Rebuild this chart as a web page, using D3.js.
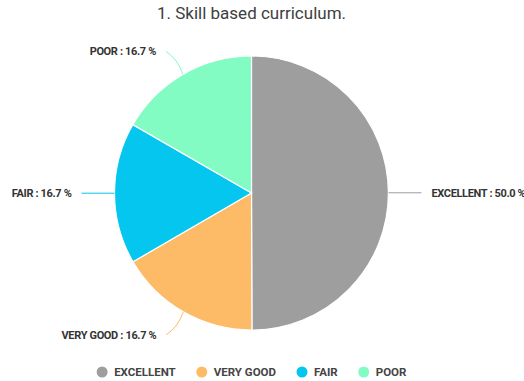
<!DOCTYPE html>
<html><head><meta charset="utf-8">
<script src="https://cdn.jsdelivr.net/npm/d3@7"></script>
<style>body{margin:0;background:#fff}svg{display:block;font-family:Roboto,"Noto Sans",sans-serif}</style>
</head><body><svg id="c" width="524" height="381"></svg>
<script>
const categories = ["EXCELLENT", "VERY GOOD", "FAIR", "POOR"];
const values = [50.0, 16.7, 16.7, 16.7];
const colors = ["#9e9e9e", "#fdbb67", "#05c6ef", "#82fcc2"];
const title = "1. Skill based curriculum.";

const svg = d3.select("#c");
const W = 524, cx = 251.5, cy = 193, R = 137;

svg.append("text").attr("x", cx).attr("y", 19).attr("text-anchor", "middle")
  .attr("font-size", 17).attr("fill", "#3e3e3e").text(title);

const data = categories.map((c, i) => ({cat: c, value: values[i], color: colors[i]}));
const pie = d3.pie().value(d => d.value).sort(null);
const arcs = pie(data);
const arc = d3.arc().innerRadius(0).outerRadius(R);

const g = svg.append("g").attr("transform", `translate(${cx},${cy})`);
g.selectAll("path.slice").data(arcs).join("path").attr("class", "slice")
  .attr("d", arc).attr("fill", d => d.data.color)
  .attr("stroke", "#fff").attr("stroke-width", 1.2);

// labels with leader lines
const labelFont = 11;
arcs.forEach(a => {
  const mid = (a.startAngle + a.endAngle) / 2;
  const sx = Math.sin(mid), sy = -Math.cos(mid);
  const p0 = [sx * R, sy * R];
  let path, tx, ty, anchor;
  if (Math.abs(sy) < 0.2) {
    const dir = sx > 0 ? 1 : -1;
    const p1 = [dir * (R + 33), sy * R];
    path = `M${p0[0]},${p0[1]}L${p1[0]},${p1[1]}`;
    tx = p1[0] + dir * 10; ty = p1[1] + 4; anchor = dir > 0 ? "start" : "end";
  } else {
    const dirY = sy > 0 ? 1 : -1;
    const p2 = [sx * R - 17, sy * R + dirY * 23];
    const c = [sx * R - 5, sy * R + dirY * 15];
    path = `M${p0[0]},${p0[1]}Q${c[0]},${c[1]} ${p2[0]},${p2[1]}`;
    tx = p2[0] - 10; ty = p2[1] + 4; anchor = "end";
  }
  g.append("path").attr("d", path).attr("fill", "none")
    .attr("stroke", a.data.color).attr("stroke-width", 1);
  g.append("text").attr("x", tx).attr("y", ty).attr("text-anchor", anchor)
    .attr("font-size", labelFont).attr("font-weight", "bold").attr("fill", "#333")
    .attr("letter-spacing", -0.35)
    .text(`${a.data.cat} : ${a.data.value.toFixed(1)} %`);
});

// legend
const lg = svg.append("g");
const items = lg.selectAll("g").data(data).join("g");
items.append("circle").attr("r", 5.5).attr("cx", 0).attr("cy", 0).attr("fill", d => d.color);
items.append("text").attr("x", 12).attr("y", 4.2).attr("font-size", 11.5)
  .attr("font-weight", "bold").attr("fill", "#444").text(d => d.cat);
let x = 0;
const pos = [];
let lastEnd = 0;
items.each(function(d, i) {
  const w = d3.select(this).select("text").node().getComputedTextLength();
  pos.push(x);
  lastEnd = x + 12 + w;
  x += 12 + w + 26;
});
const total = lastEnd + 5.5;
const start = cx - total / 2 + 5.5;
items.attr("transform", (d, i) => `translate(${start + pos[i]},372)`);
</script></body></html>
